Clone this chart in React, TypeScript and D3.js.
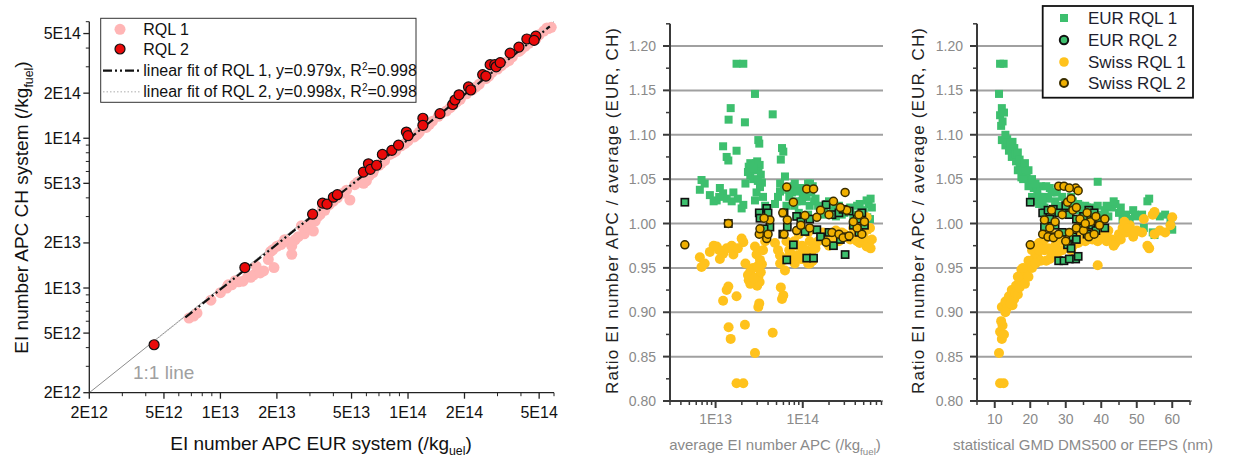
import React from 'react';
import * as d3 from 'd3';

const FONT = "'Liberation Sans', Arial, Helvetica, sans-serif";

// ---------- Left panel: EI number APC, CH vs EUR ----------
const rql1EUR = [6.8e12, 7.2e12, 7.5e12, 8.9e12, 1.0e13, 1.08e13, 1.15e13, 1.2e13, 1.25e13, 1.32e13, 1.4e13, 1.45e13, 1.5e13, 1.55e13, 1.63e13, 1.7e13, 1.8e13, 1.85e13, 1.93e13, 2.0e13, 2.1e13, 2.25e13, 2.4e13, 2.4e13, 2.5e13, 2.6e13, 2.8e13, 2.9e13, 3.0e13, 3.13e13, 3.2e13, 3.4e13, 3.6e13, 3.8e13, 4.2e13, 4.5e13, 4.9e13, 5.2e13, 5.6e13, 6.0e13, 6.2e13, 6.5e13, 7.0e13, 7.5e13, 8.0e13, 8.6e13, 9.2e13, 1.0e14, 1.08e14, 1.15e14, 1.25e14, 1.35e14, 1.45e14, 1.6e14, 1.75e14, 1.9e14, 2.05e14, 2.2e14, 2.4e14, 2.6e14, 2.8e14, 3.0e14, 3.3e14, 3.6e14, 3.9e14, 4.2e14, 4.6e14, 5.0e14, 5.3e14, 5.6e14, 5.8e14,
  1.1e13, 1.9e13, 2.2e13, 2.7e13, 3.3e13, 3.5e13, 4.0e13, 4.7e13, 5.4e13, 5.8e13, 6.6e13, 7.2e13, 8.3e13, 9.6e13, 1.12e14, 1.3e14, 1.5e14, 1.68e14, 1.82e14, 2.3e14, 2.7e14, 3.15e14, 3.45e14, 4.0e14, 4.4e14, 4.8e14, 5.5e14];
const rql1CH = [6.3e12, 6.5e12, 6.8e12, 8.3e12, 9.3e12, 1.0e13, 1.05e13, 1.12e13, 1.1e13, 1.11e13, 1.2e13, 1.18e13, 1.22e13, 1.4e13, 1.26e13, 1.3e13, 1.55e13, 1.75e13, 1.37e13, 1.9e13, 1.95e13, 2.05e13, 1.68e13, 1.91e13, 2.1e13, 2.2e13, 2.3e13, 2.55e13, 2.7e13, 2.4e13, 2.8e13, 3.1e13, 3.3e13, 3.6e13, 4.0e13, 4.3e13, 3.87e13, 4.9e13, 5.2e13, 5.2e13, 5.6e13, 5.9e13, 6.6e13, 7.1e13, 7.8e13, 8.2e13, 8.9e13, 9.6e13, 1.02e14, 1.1e14, 1.18e14, 1.3e14, 1.4e14, 1.52e14, 1.68e14, 1.82e14, 1.98e14, 2.1e14, 2.3e14, 2.5e14, 2.75e14, 2.9e14, 3.2e14, 3.5e14, 3.8e14, 4.1e14, 4.5e14, 4.9e14, 5.2e14, 5.4e14, 5.5e14,
  1.05e13, 1.8e13, 2.1e13, 2.6e13, 3.0e13, 3.4e13, 3.8e13, 4.5e13, 5.1e13, 5.0e13, 6.2e13, 6.8e13, 8.0e13, 9.2e13, 1.06e14, 1.24e14, 1.46e14, 1.6e14, 1.75e14, 2.2e14, 2.6e14, 3.05e14, 3.3e14, 3.9e14, 4.3e14, 4.6e14, 5.45e14];
const rql2EUR = [4.43e12, 1.35e13, 3.1e13, 3.5e13, 3.7e13, 4.0e13, 4.2e13, 5.78e13, 6.15e13, 6.3e13, 6.8e13, 7.3e13, 8.2e13, 8.9e13, 9.8e13, 1.0e14, 1.2e14, 1.2e14, 1.48e14, 1.73e14, 1.78e14, 1.87e14, 2.1e14, 2.16e14, 2.5e14, 2.6e14, 2.74e14, 2.9e14, 2.95e14, 3.1e14, 3.5e14, 3.9e14, 4.3e14, 4.8e14, 4.7e14];
const rql2CH = [4.18e12, 1.37e13, 3.11e13, 3.69e13, 3.63e13, 4.04e13, 4.2e13, 5.94e13, 6.75e13, 6.2e13, 6.6e13, 7.8e13, 8.3e13, 9.0e13, 1.1e14, 1.04e14, 1.36e14, 1.22e14, 1.46e14, 1.68e14, 1.8e14, 1.95e14, 2.2e14, 2.1e14, 2.66e14, 2.6e14, 3.1e14, 3.1e14, 3.0e14, 3.2e14, 3.7e14, 4.06e14, 4.6e14, 4.8e14, 4.5e14];
const fitSlopes = [0.979, 0.998];
const fitRanges = [[6.5e12, 5.7e14], [4.4e12, 5.6e14]];
const leftTickValues = [2e12, 5e12, 1e13, 2e13, 5e13, 1e14, 2e14, 5e14];
const leftTickLabels = ['2E12', '5E12', '1E13', '2E13', '5E13', '1E14', '2E14', '5E14'];
const leftLegend = ['RQL 1', 'RQL 2', 'linear fit of RQL 1, y=0.979x, R', 'linear fit of RQL 2, y=0.998x, R'];
const leftR2 = '=0.998';

// ---------- Middle panel: ratio vs average EI ----------
const midAvg1 = [1.74e13, 2.08e13, 2.83e13, 1.49e13, 1.41e13, 2.17e13, 4.52e13, 1.22e13, 1.74e13, 1.34e13, 1.40e13, 3.09e13, 3.17e13, 5.78e13, 5.98e13, 5.60e13, 3.0e13, 3.2e13, 3.1e13, 3.3e13, 2.4e13, 2.6e13, 2.5e13, 2.7e13, 3.4e13, 2.9e13, 6.9e12, 6.6e12, 8.6e12, 1.12e13, 1.22e13, 1.34e13, 1.53e13, 1.03e13, 2.08e13, 1.99e13, 2.83e13, 3.23e13, 2.95e13, 5.48e13, 6.1e13, 6.25e13, 8.1e13, 9.5e13, 1.15e14, 1.3e14, 7.0e13, 8.5e13, 1.0e14, 1.2e14, 1.21e14, 1.4e14, 1.6e14, 1.9e14, 2.2e14, 2.6e14, 3.0e14, 3.5e14, 4.0e14, 4.5e14, 5.0e14, 5.4e14, 5.7e14, 5.5e14, 5.4e14, 3.8e14, 2.4e14, 1.7e14, 9.0e13, 6.5e13, 7.5e13, 1.05e14,
  1.6e13, 1.8e13, 1.1e13, 9.5e12, 7.5e12, 2.2e13, 2.35e13, 2.5e13, 2.75e13, 3.05e13, 3.5e13, 3.7e13, 4.8e13, 5.2e13, 5.5e13, 6.8e13, 7.8e13, 8.8e13, 9.8e13, 1.1e14, 1.25e14, 1.35e14, 1.5e14, 1.75e14, 2.0e14, 2.4e14, 2.8e14, 3.2e14, 4.2e14, 4.8e14, 6.0e14, 6.2e14, 5.9e14, 8.0e13, 1.0e14, 1.15e14];
const midEur1 = [1.180, 1.180, 1.146, 1.130, 1.117, 1.114, 1.123, 1.087, 1.082, 1.075, 1.071, 1.094, 1.090, 1.085, 1.081, 1.072, 1.070, 1.066, 1.060, 1.055, 1.064, 1.060, 1.054, 1.050, 1.046, 1.068, 1.049, 1.038, 1.032, 1.040, 1.034, 1.028, 1.025, 1.026, 1.021, 1.017, 1.026, 1.041, 1.035, 1.036, 1.041, 1.053, 1.045, 1.040, 1.045, 1.042, 1.030, 1.025, 1.030, 1.020, 1.045, 1.028, 1.018, 1.022, 1.015, 1.020, 1.012, 1.018, 1.010, 1.022, 1.015, 1.026, 1.022, 1.007, 0.993, 1.005, 1.008, 1.010, 1.012, 1.020, 1.035, 1.035,
  1.035, 1.028, 1.030, 1.025, 1.045, 1.045, 1.058, 1.068, 1.062, 1.048, 1.030, 1.020, 1.022, 1.030, 1.045, 1.038, 1.042, 1.036, 1.025, 1.030, 1.035, 1.025, 1.020, 1.015, 1.025, 1.018, 1.010, 1.015, 1.020, 1.012, 1.028, 1.018, 1.005, 1.020, 1.040, 1.010];
const midSwiss1 = [0.820, 0.820, 0.854, 0.870, 0.883, 0.886, 0.877, 0.913, 0.918, 0.925, 0.929, 0.906, 0.910, 0.915, 0.919, 0.928, 0.930, 0.934, 0.940, 0.945, 0.936, 0.940, 0.946, 0.950, 0.954, 0.932, 0.951, 0.962, 0.968, 0.960, 0.966, 0.972, 0.975, 0.974, 0.979, 0.983, 0.974, 0.959, 0.965, 0.964, 0.959, 0.947, 0.955, 0.960, 0.955, 0.958, 0.970, 0.975, 0.970, 0.980, 0.955, 0.972, 0.982, 0.978, 0.985, 0.980, 0.988, 0.982, 0.990, 0.978, 0.985, 0.974, 0.978, 0.993, 1.007, 0.995, 0.992, 0.990, 0.988, 0.980, 0.965, 0.965,
  0.965, 0.972, 0.970, 0.975, 0.955, 0.955, 0.942, 0.932, 0.938, 0.952, 0.970, 0.980, 0.978, 0.970, 0.955, 0.962, 0.958, 0.964, 0.975, 0.970, 0.965, 0.975, 0.980, 0.985, 0.975, 0.982, 0.990, 0.985, 0.980, 0.988, 0.972, 0.982, 0.995, 0.980, 0.960, 0.990];
const midAvg2 = [4.44e12, 1.40e13, 3.17e13, 3.86e13, 4.0e13, 3.23e13, 4.2e13, 3.6e13, 6.1e13, 5.9e13, 6.65e13, 7.8e13, 6.55e13, 8.5e13, 1.06e14, 1.11e14, 1.33e14, 1.45e14, 1.85e14, 2.16e14, 2.25e14, 3.06e14, 2.6e14, 2.9e14, 3.4e14, 4.76e14, 5.1e14, 4.2e14, 3.8e14, 1.2e14, 1.6e14, 2.0e14, 9.5e13, 3.2e14, 4.4e14, 2.7e14];
const midEur2 = [1.024, 1.000, 1.012, 1.017, 1.012, 1.006, 0.996, 0.994, 1.012, 0.988, 0.996, 0.976, 0.959, 1.008, 0.991, 0.961, 0.961, 0.993, 1.021, 1.010, 0.975, 0.965, 1.012, 1.016, 1.014, 1.012, 0.998, 1.005, 0.998, 1.005, 0.985, 0.990, 1.002, 0.985, 0.990, 0.982];
const midSwiss2 = [0.976, 1.000, 0.988, 0.983, 0.988, 0.994, 1.004, 1.006, 0.988, 1.012, 1.004, 1.024, 1.041, 0.992, 1.009, 1.039, 1.039, 1.007, 0.979, 0.990, 1.025, 1.035, 0.988, 0.984, 0.986, 0.988, 1.002, 0.995, 1.002, 0.995, 1.015, 1.010, 0.998, 1.015, 1.010, 1.018];
const midTickValues = [1e13, 1e14];
const midTickLabels = ['1E13', '1E14'];

// ---------- Right panel: ratio vs GMD ----------
const gmd1 = [11.5, 12.5, 11.2, 11.5, 12.0, 12.6, 12.2, 11.8, 12.0, 13.0, 14.0, 15.0, 15.5, 14.8, 16.0, 17.0, 18.0, 17.5, 19.0, 20.0, 21.0, 22.0, 23.0, 24.0, 24.5, 25.0, 26.0, 27.0, 28.0, 29.0, 30.0, 31.0, 32.0, 33.0, 34.0, 35.0, 36.0, 37.0, 38.0, 39.0, 40.0, 41.0, 42.0, 43.0, 44.0, 45.0, 46.0, 47.0, 48.0, 49.0, 50.0, 51.5, 53.0, 53.5, 54.5, 55.0, 55.0, 56.5, 58.0, 60.0, 59.5, 52.0, 46.5, 20.5, 21.5, 22.5, 26.5,
  13.5, 14.5, 15.8, 16.5, 17.0, 18.5, 19.5, 16.5, 18.0, 19.5, 20.5, 21.5, 22.5, 23.5, 25.5, 27.5, 29.5, 31.5, 33.5, 35.5, 37.5, 39.0, 41.5, 43.5, 45.5, 47.5, 49.5, 24.0, 26.0, 13.0];
const gmdEur1 = [1.180, 1.180, 1.146, 1.122, 1.130, 1.125, 1.115, 1.110, 1.094, 1.088, 1.082, 1.092, 1.085, 1.075, 1.070, 1.065, 1.060, 1.052, 1.052, 1.045, 1.040, 1.035, 1.042, 1.030, 1.042, 1.028, 1.035, 1.025, 1.020, 1.030, 1.022, 1.018, 1.025, 1.015, 1.020, 1.012, 1.018, 1.010, 1.015, 1.047, 1.010, 1.015, 1.008, 1.018, 1.022, 1.012, 1.005, 1.010, 1.002, 1.015, 1.008, 1.010, 1.025, 1.028, 0.990, 1.012, 0.987, 1.008, 1.010, 0.993, 1.002, 0.995, 0.998, 1.030, 1.025, 1.022, 1.015,
  1.095, 1.090, 1.078, 1.080, 1.072, 1.068, 1.060, 1.060, 1.050, 1.042, 1.050, 1.045, 1.030, 1.025, 1.040, 1.035, 1.015, 1.030, 1.022, 1.020, 1.018, 1.020, 1.020, 1.025, 1.018, 1.005, 1.010, 1.018, 1.012, 1.100];
const gmdSwiss1 = [0.820, 0.820, 0.854, 0.878, 0.870, 0.875, 0.885, 0.890, 0.906, 0.912, 0.918, 0.908, 0.915, 0.925, 0.930, 0.935, 0.940, 0.948, 0.948, 0.955, 0.960, 0.965, 0.958, 0.970, 0.958, 0.972, 0.965, 0.975, 0.980, 0.970, 0.978, 0.982, 0.975, 0.985, 0.980, 0.988, 0.982, 0.990, 0.985, 0.953, 0.990, 0.985, 0.992, 0.982, 0.978, 0.988, 0.995, 0.990, 0.998, 0.985, 0.992, 0.990, 0.975, 0.972, 1.010, 0.988, 1.013, 0.992, 0.990, 1.007, 0.998, 1.005, 1.002, 0.970, 0.975, 0.978, 0.985,
  0.905, 0.910, 0.922, 0.920, 0.928, 0.932, 0.940, 0.940, 0.950, 0.958, 0.950, 0.955, 0.970, 0.975, 0.960, 0.965, 0.985, 0.970, 0.978, 0.980, 0.982, 0.980, 0.980, 0.975, 0.982, 0.995, 0.990, 0.982, 0.988, 0.900];
const gmd2 = [20.0, 23.5, 25.0, 26.5, 28.0, 30.0, 31.0, 33.0, 35.0, 36.5, 38.0, 41.0, 30.5, 32.0, 32.8, 28.0, 29.5, 31.0, 33.5, 31.5, 27.0, 29.0, 34.0, 37.0, 39.5, 24.0, 26.0, 36.0, 33.0, 38.5, 25.5, 35.5];
const gmdEur2 = [1.024, 1.012, 1.015, 1.016, 1.012, 1.020, 1.010, 1.005, 1.008, 1.015, 1.012, 0.995, 0.976, 0.985, 0.960, 0.958, 0.958, 0.960, 0.963, 0.972, 0.998, 0.990, 0.995, 0.998, 1.002, 0.996, 0.985, 0.988, 0.982, 0.992, 1.005, 1.000];
const gmdSwiss2 = [0.976, 0.988, 0.985, 0.984, 0.988, 0.980, 0.990, 0.995, 0.992, 0.985, 0.988, 1.005, 1.024, 1.015, 1.040, 1.042, 1.042, 1.040, 1.037, 1.028, 1.002, 1.010, 1.005, 1.002, 0.998, 1.004, 1.015, 1.012, 1.018, 1.008, 0.995, 1.000];
const gmdTickValues = [10, 20, 30, 40, 50, 60];
const ratioTickValues = [0.8, 0.85, 0.9, 0.95, 1.0, 1.05, 1.1, 1.15, 1.2];
const ratioTickLabels = ['0.80', '0.85', '0.90', '0.95', '1.00', '1.05', '1.10', '1.15', '1.20'];
const rightLegend = ['EUR RQL 1', 'EUR RQL 2', 'Swiss RQL 1', 'Swiss RQL 2'];

const C_PINK = '#ffb5b5';
const C_RED = '#ea0a0a';
const C_GREEN = '#3dbf6e';
const C_YELLOW = '#ffc21c';
const C_SWISS2 = '#f0b000';
const C_GRID = '#a0a0a0';
const C_GRAYTXT = '#8a8a8a';

function logMinors(lo: number, hi: number): number[] {
  const out: number[] = [];
  for (let e = Math.floor(Math.log10(lo)); e <= Math.ceil(Math.log10(hi)); e++) {
    for (let m = 1; m <= 9; m++) {
      const v = m * Math.pow(10, e);
      if (v >= lo * 0.999 && v <= hi * 1.001) out.push(v);
    }
  }
  return out;
}

function RatioPanel(props: {
  x: any; axisX: number; gridEnd: number;
  xs1: number[]; eur1: number[]; sw1: number[];
  xs2: number[]; eur2: number[]; sw2: number[];
  majorTicks: number[]; majorLabels: string[]; minorTicks: number[];
  titleX: number; xTitle: React.ReactNode; xTitleCenter: number;
}) {
  const { x, axisX, gridEnd } = props;
  const y = d3.scaleLinear().domain([0.8, 1.2]).range([401, 46]);
  const yTop = y(1.225);
  const yBot = y(0.8);
  const minorY = d3.range(0.825, 1.225, 0.05);
  const sq = 8;
  return (
    <g>
      {ratioTickValues.map((v, i) => (
        <line key={'g' + i} x1={axisX} x2={gridEnd} y1={y(v)} y2={y(v)} stroke={C_GRID} strokeWidth={2} />
      ))}
      <line x1={axisX} x2={axisX} y1={yTop} y2={yBot + 1} stroke="#3a3a3a" strokeWidth={2} />
      {ratioTickValues.map((v, i) => (
        <line key={'yt' + i} x1={axisX - 7} x2={axisX} y1={y(v)} y2={y(v)} stroke="#3a3a3a" strokeWidth={2} />
      ))}
      {minorY.map((v, i) => (
        <line key={'ym' + i} x1={axisX - 4} x2={axisX} y1={y(v)} y2={y(v)} stroke="#3a3a3a" strokeWidth={1.5} />
      ))}
      {ratioTickValues.map((v, i) => (
        <text key={'yl' + i} x={axisX - 14} y={y(v) + 5} textAnchor="end" fontSize={14} fill={C_GRAYTXT} fontFamily={FONT}>{ratioTickLabels[i]}</text>
      ))}
      <line x1={axisX} x2={gridEnd - 2} y1={yBot} y2={yBot} stroke="#3a3a3a" strokeWidth={2} />
      {props.majorTicks.map((v, i) => (
        <line key={'xt' + i} x1={x(v)} x2={x(v)} y1={yBot} y2={yBot + 7} stroke="#3a3a3a" strokeWidth={2} />
      ))}
      {props.minorTicks.map((v, i) => (
        <line key={'xm' + i} x1={x(v)} x2={x(v)} y1={yBot} y2={yBot + 4} stroke="#3a3a3a" strokeWidth={1.5} />
      ))}
      {props.majorTicks.map((v, i) => (
        <text key={'xl' + i} x={x(v)} y={424} textAnchor="middle" fontSize={14} fill={C_GRAYTXT} fontFamily={FONT}>{props.majorLabels[i]}</text>
      ))}
      <text transform={`translate(${props.titleX},211) rotate(-90)`} textAnchor="middle" fontSize={17} fill="#222" fontFamily={FONT} textLength={366} lengthAdjust="spacing">Ratio EI number APC / average (EUR, CH)</text>
      <text x={props.xTitleCenter} y={450} textAnchor="middle" fontSize={15} fill={C_GRAYTXT} fontFamily={FONT}>{props.xTitle}</text>
      {props.xs1.map((v, i) => (
        <rect key={'e1' + i} x={x(v) - sq / 2} y={y(props.eur1[i]) - sq / 2} width={sq} height={sq} fill={C_GREEN} />
      ))}
      {props.xs1.map((v, i) => (
        <circle key={'s1' + i} cx={x(v)} cy={y(props.sw1[i])} r={5} fill={C_YELLOW} />
      ))}
      {props.xs2.map((v, i) => (
        <rect key={'e2' + i} x={x(v) - 3.6} y={y(props.eur2[i]) - 3.6} width={7.2} height={7.2} fill={C_GREEN} stroke="#111" strokeWidth={1.6} />
      ))}
      {props.xs2.map((v, i) => (
        <circle key={'s2' + i} cx={x(v)} cy={y(props.sw2[i])} r={4} fill={C_SWISS2} stroke="#3a2e00" strokeWidth={1.5} />
      ))}
    </g>
  );
}

export default function App() {
  const xL = d3.scaleLog().domain([2e12, 6e14]).range([89.3, 554]);
  const yL = d3.scaleLog().domain([2e12, 6e14]).range([392.7, 21.7]);
  const minorsL = logMinors(2e12, 6e14).filter(v => !leftTickValues.some(t => Math.abs(t - v) / v < 1e-6));
  const fitLine = (k: number) => {
    const [a, b] = fitRanges[k];
    return d3.line<number>().x(v => xL(v)).y(v => yL(v * fitSlopes[k]))([a, b]) || '';
  };

  const xM = d3.scaleLog().domain([3e12, 8e14]).range([670, 881.5]);
  const minorsM = logMinors(3e12, 8e14).filter(v => !midTickValues.some(t => Math.abs(t - v) / v < 1e-6));
  const xR = d3.scaleLinear().domain([5, 65]).range([977, 1190]);
  const minorsR = d3.range(5, 66, 10);

  const sub = (s: string) => (<><tspan dy={5} fontSize="0.65em">{s}</tspan><tspan dy={-5}>)</tspan></>);

  return (
    <svg width={1233} height={457} style={{ position: 'absolute', left: 0, top: 0, background: '#fff' }} fontFamily={FONT}>
      <rect x={0} y={0} width={1233} height={457} fill="#fff" />
      {/* ===== Left panel ===== */}
      <line x1={xL(2e12)} y1={yL(2e12)} x2={xL(6e14)} y2={yL(6e14)} stroke="#8c8c8c" strokeWidth={1} />
      <text x={133} y={379} fontSize={19} fill="#a0a0a0">1:1 line</text>
      {rql1EUR.map((v, i) => (
        <circle key={'p' + i} cx={xL(v)} cy={yL(rql1CH[i])} r={5.5} fill={C_PINK} />
      ))}
      <path d={fitLine(1)} stroke="#c8c8c8" strokeWidth={1.5} strokeDasharray="1.5,2" fill="none" />
      <path d={fitLine(0)} stroke="#111" strokeWidth={2.2} strokeDasharray="9,3,2,3,2,3" fill="none" />
      {rql2EUR.map((v, i) => (
        <circle key={'r' + i} cx={xL(v)} cy={yL(rql2CH[i])} r={5} fill={C_RED} stroke="#111" strokeWidth={1.2} />
      ))}
      <line x1={89.3} x2={89.3} y1={21.7} y2={392.7} stroke="#222" strokeWidth={1.3} />
      <line x1={89.3} x2={554} y1={392.7} y2={392.7} stroke="#222" strokeWidth={1.3} />
      {leftTickValues.map((v, i) => (
        <g key={'lt' + i}>
          <line x1={89.3 - 6} x2={89.3} y1={yL(v)} y2={yL(v)} stroke="#222" strokeWidth={1.3} />
          <line x1={xL(v)} x2={xL(v)} y1={392.7} y2={392.7 + 6} stroke="#222" strokeWidth={1.3} />
          <text x={81} y={yL(v) + 5.5} textAnchor="end" fontSize={16} fill="#111">{leftTickLabels[i]}</text>
          <text x={xL(v)} y={418} textAnchor="middle" fontSize={16} fill="#111">{leftTickLabels[i]}</text>
        </g>
      ))}
      {minorsL.map((v, i) => (
        <g key={'lm' + i}>
          <line x1={89.3 - 3.5} x2={89.3} y1={yL(v)} y2={yL(v)} stroke="#222" strokeWidth={1} />
          <line x1={xL(v)} x2={xL(v)} y1={392.7} y2={392.7 + 3.5} stroke="#222" strokeWidth={1} />
        </g>
      ))}
      <text transform="translate(28,207.5) rotate(-90)" textAnchor="middle" fontSize={19} fill="#111">EI number APC CH system (/kg{sub('fuel')}</text>
      <text x={321} y={450} textAnchor="middle" fontSize={19} fill="#111">EI number APC EUR system (/kg{sub('uel')}</text>
      <rect x={100.7} y={18.3} width={315.3} height={84} fill="#fff" stroke="#333" strokeWidth={1} />
      <circle cx={120} cy={29.3} r={5.5} fill={C_PINK} />
      <circle cx={120} cy={49} r={5} fill={C_RED} stroke="#111" strokeWidth={1.2} />
      <line x1={103} x2={141} y1={70.7} y2={70.7} stroke="#111" strokeWidth={2.2} strokeDasharray="9,3,2,3,2,3" />
      <line x1={103} x2={141} y1={91.7} y2={91.7} stroke="#c8c8c8" strokeWidth={1.5} strokeDasharray="1.5,2" />
      {leftLegend.map((s, i) => (
        <text key={'ll' + i} x={143.3} y={[29.3, 49, 70.7, 91.7][i] + 5.5} fontSize={16} fill="#111">
          {s}{i >= 2 ? <><tspan dy={-6} fontSize={10}>2</tspan><tspan dy={6}>{leftR2}</tspan></> : null}
        </text>
      ))}

      {/* ===== Middle panel ===== */}
      <RatioPanel x={xM} axisX={670} gridEnd={883}
        xs1={midAvg1} eur1={midEur1} sw1={midSwiss1}
        xs2={midAvg2} eur2={midEur2} sw2={midSwiss2}
        majorTicks={midTickValues} majorLabels={midTickLabels} minorTicks={minorsM}
        titleX={618} xTitle={<>average EI number APC (/kg{sub('fuel')}</>} xTitleCenter={775} />

      {/* ===== Right panel ===== */}
      <RatioPanel x={xR} axisX={977} gridEnd={1192}
        xs1={gmd1} eur1={gmdEur1} sw1={gmdSwiss1}
        xs2={gmd2} eur2={gmdEur2} sw2={gmdSwiss2}
        majorTicks={gmdTickValues} majorLabels={gmdTickValues.map(String)} minorTicks={minorsR}
        titleX={924} xTitle={<>statistical GMD DMS500 or EEPS (nm)</>} xTitleCenter={1083} />

      <rect x={1042.7} y={6} width={150.3} height={91.7} fill="#fff" stroke="#111" strokeWidth={1.8} />
      <rect x={1060} y={14} width={8} height={8} fill={C_GREEN} />
      <circle cx={1064} cy={40} r={4.2} fill={C_GREEN} stroke="#111" strokeWidth={2} />
      <circle cx={1064} cy={62} r={4.8} fill={C_YELLOW} />
      <circle cx={1064} cy={83} r={4} fill={C_SWISS2} stroke="#3a2e00" strokeWidth={2} />
      {rightLegend.map((s, i) => (
        <text key={'rl' + i} x={1088} y={[18, 40, 62, 83][i] + 6} fontSize={17} fill="#1e1e2e">{s}</text>
      ))}
    </svg>
  );
}
